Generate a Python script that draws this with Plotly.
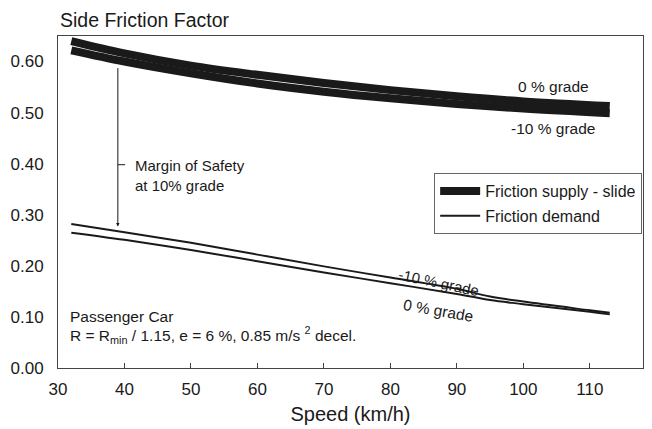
import plotly.graph_objects as go

# Friction supply (sliding) by grade
speed_supply = [32, 40, 50, 60, 70, 80, 90, 100, 113]
supply_0 = [0.640, 0.616, 0.592, 0.574, 0.558, 0.544, 0.532, 0.522, 0.513]
supply_m10 = [0.622, 0.600, 0.577, 0.557, 0.541, 0.528, 0.517, 0.508, 0.499]

# Friction demand by grade
speed_demand = [32, 40, 50, 60, 70, 80, 90, 95, 100, 110, 113]
demand_m10 = [0.282, 0.266, 0.245, 0.222, 0.199, 0.177, 0.155, 0.140, 0.130, 0.113, 0.108]
demand_0 = [0.265, 0.251, 0.231, 0.209, 0.187, 0.166, 0.145, 0.133, 0.125, 0.110, 0.105]

x_ticks = [30, 40, 50, 60, 70, 80, 90, 100, 110]
y_ticks = [0.0, 0.1, 0.2, 0.3, 0.4, 0.5, 0.6]

margin_speed = 39
margin_top = 0.590
margin_bottom = 0.277

FONT = "Liberation Sans, Arial, sans-serif"
INK = "#1a1a1a"

fig = go.Figure()

fig.add_trace(go.Scatter(
    x=speed_supply, y=supply_0, mode="lines", line=dict(color=INK, width=8, shape="spline"),
    name="Friction supply - slide", legendgroup="supply", showlegend=True))
fig.add_trace(go.Scatter(
    x=speed_supply, y=supply_m10, mode="lines", line=dict(color=INK, width=8, shape="spline"),
    name="Friction supply - slide", legendgroup="supply", showlegend=False))
fig.add_trace(go.Scatter(
    x=speed_demand, y=demand_m10, mode="lines", line=dict(color=INK, width=2, shape="spline"),
    name="Friction demand", legendgroup="demand", showlegend=True))
fig.add_trace(go.Scatter(
    x=speed_demand, y=demand_0, mode="lines", line=dict(color=INK, width=2, shape="spline"),
    name="Friction demand", legendgroup="demand", showlegend=False))

annotations = [
    dict(x=0, y=1, xref="paper", yref="paper", xanchor="left", yanchor="bottom", yshift=3,
         text="Side Friction Factor", showarrow=False, font=dict(size=19.5, color=INK)),
    dict(x=margin_speed, y=margin_bottom, ax=margin_speed, ay=margin_top, xref="x", yref="y",
         axref="x", ayref="y", text="", showarrow=True, arrowhead=2, arrowsize=0.7,
         arrowwidth=1, arrowcolor=INK),
    dict(x=41.3, y=0.398, xref="x", yref="y", xanchor="left", yanchor="top", yshift=10,
         text="Margin of Safety<br>at 10% grade", align="left", showarrow=False,
         font=dict(size=15, color=INK)),
    dict(x=104.5, y=0.552, xref="x", yref="y", text="0 % grade", showarrow=False,
         font=dict(size=15.5, color=INK)),
    dict(x=104.5, y=0.468, xref="x", yref="y", text="-10 % grade", showarrow=False,
         font=dict(size=15.5, color=INK)),
    dict(x=87.3, y=0.168, xref="x", yref="y", text="-10 % grade", showarrow=False,
         textangle=12, font=dict(size=15, color=INK)),
    dict(x=87.3, y=0.113, xref="x", yref="y", text="0 % grade", showarrow=False,
         textangle=10, font=dict(size=15.5, color=INK)),
    dict(x=31.5, y=0.10, xref="x", yref="y", xanchor="left", text="Passenger Car",
         showarrow=False, font=dict(size=15.5, color=INK)),
    dict(x=31.5, y=0.064, xref="x", yref="y", xanchor="left",
         text="R = R<sub>min</sub> / 1.15, e = 6 %, 0.85 m/s <sup>2</sup> decel.",
         showarrow=False, font=dict(size=15.5, color=INK)),
]

fig.update_layout(
    width=652, height=429,
    margin=dict(l=58, r=9, t=36, b=61),
    paper_bgcolor="white", plot_bgcolor="white",
    font=dict(family=FONT, color=INK, size=15),
    annotations=annotations,
    shapes=[dict(type="line", xref="x", yref="y", x0=margin_speed, x1=40.1,
                 y0=0.398, y1=0.398, line=dict(color=INK, width=1))],
    legend=dict(x=0.643, y=0.587, xanchor="left", yanchor="top",
                bordercolor="#666", borderwidth=1, bgcolor="white",
                font=dict(size=16, color=INK), itemwidth=40, tracegroupgap=1),
    xaxis=dict(range=[30, 118], tickvals=x_ticks, ticks="inside", ticklen=5,
               tickcolor="#444", showgrid=False, zeroline=False, showline=True,
               linecolor="#444", linewidth=1, mirror=True, automargin=False,
               tickfont=dict(size=17, color=INK), ticklabelstandoff=6,
               title=dict(text="Speed (km/h)", font=dict(size=20, color=INK), standoff=8)),
    yaxis=dict(range=[0, 0.65], tickvals=y_ticks, tickformat=".2f", ticks="",
               showgrid=False, zeroline=False, showline=True, linecolor="#444",
               linewidth=1, mirror=True, automargin=False, ticklabelstandoff=10,
               tickfont=dict(size=17, color=INK)),
)

fig.write_html("out.html")
